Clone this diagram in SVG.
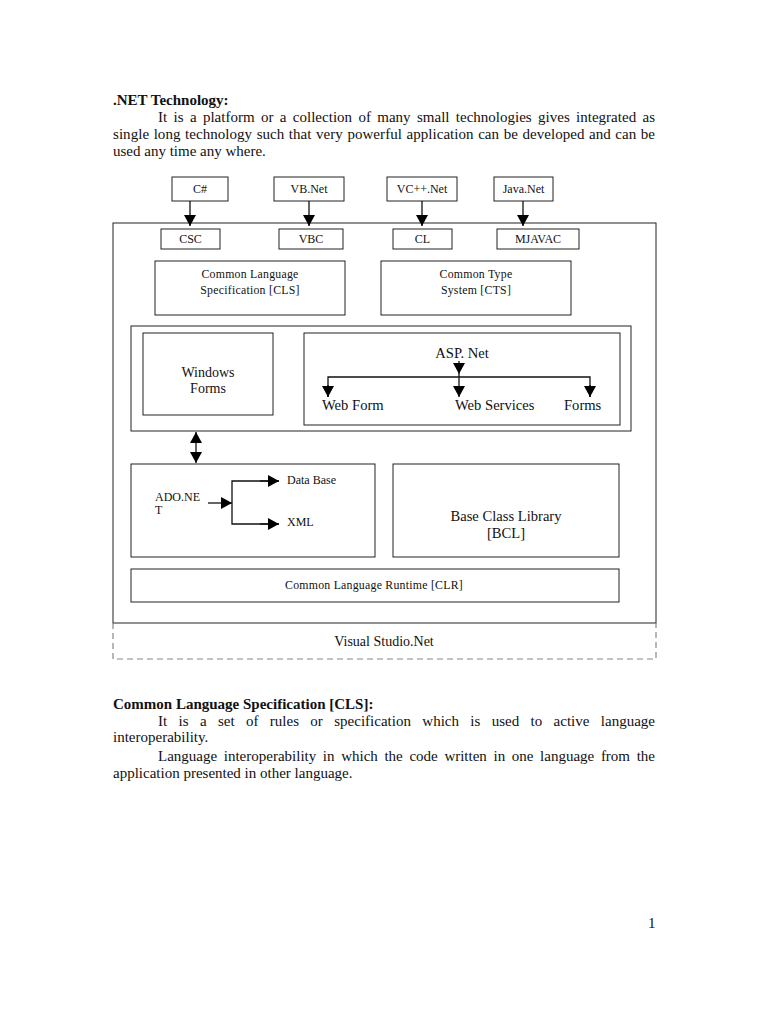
<svg xmlns="http://www.w3.org/2000/svg" width="768" height="1024" viewBox="0 0 768 1024">
<style>
text{font-family:"Liberation Serif","Times New Roman",serif;fill:#111}
.body{font-size:15px}
.bold{font-size:15px;font-weight:bold}
.box{fill:#fff;stroke:#222;stroke-width:1}
.s12{font-size:12px}
.s115{font-size:11.8px;letter-spacing:0.25px}
.s14{font-size:14px}
.s145{font-size:14.6px}
.c{text-anchor:middle}
.ln{fill:none;stroke:#111;stroke-width:1.3}
.dash{fill:none;stroke:#888;stroke-width:1.2;stroke-dasharray:6,4}
</style>
<defs>
<marker id="ah" markerUnits="userSpaceOnUse" viewBox="0 0 11 12" refX="11" refY="6" markerWidth="11" markerHeight="12" orient="auto-start-reverse">
<path d="M0,0 L11,6 L0,12 z" fill="#000"/>
</marker>
</defs>
<rect width="768" height="1024" fill="#fff"/>

<g id="intro">
<text class="bold" x="113" y="105">.NET Technology:</text>
<text class="body" x="158" y="122" word-spacing="2.6" textLength="497" lengthAdjust="spacing">It is a platform or a collection of many small technologies gives integrated as</text>
<text class="body" x="113" y="139" word-spacing="0.7" textLength="542" lengthAdjust="spacing">single long technology such that very powerful application can be developed and can be</text>
<text class="body" x="113" y="156">used any time any where.</text>
</g>

<g id="outer">
<rect class="box" x="113" y="223" width="543" height="400"/>
<path class="dash" d="M113,623 V659 H656 V623"/>
<text class="s14 c" x="384" y="646">Visual Studio.Net</text>
</g>

<g id="lang-csharp"><rect class="box" x="172" y="177" width="56" height="24"/><text class="s12 c" x="200" y="193">C#</text></g>
<g id="lang-vbnet"><rect class="box" x="274" y="177" width="70" height="24"/><text class="s12 c" x="309" y="193">VB.Net</text></g>
<g id="lang-vcnet"><rect class="box" x="387" y="177" width="70" height="24"/><text class="s12 c" x="422" y="193">VC++.Net</text></g>
<g id="lang-javanet"><rect class="box" x="494" y="177" width="59" height="24"/><text class="s12 c" x="523.5" y="193">Java.Net</text></g>

<g id="comp-csc"><rect class="box" x="161" y="229" width="59" height="20"/><text class="s12 c" x="190.5" y="243">CSC</text></g>
<g id="comp-vbc"><rect class="box" x="279" y="229" width="64" height="20"/><text class="s12 c" x="311" y="243">VBC</text></g>
<g id="comp-cl"><rect class="box" x="393" y="229" width="59" height="20"/><text class="s12 c" x="422.5" y="243">CL</text></g>
<g id="comp-mjavac"><rect class="box" x="497" y="229" width="82" height="20"/><text class="s12 c" x="538" y="243">MJAVAC</text></g>

<g id="cls"><rect class="box" x="155" y="261" width="190" height="54"/>
<text class="s115 c" x="250" y="278">Common Language</text>
<text class="s115 c" x="250" y="294">Specification [CLS]</text></g>
<g id="cts"><rect class="box" x="381" y="261" width="190" height="54"/>
<text class="s115 c" x="476" y="278">Common Type</text>
<text class="s115 c" x="476" y="294">System [CTS]</text></g>

<g id="ui-container"><rect class="box" x="131" y="326" width="500" height="105"/></g>
<g id="winforms"><rect class="box" x="143" y="333" width="130" height="82"/>
<text class="s14 c" x="208" y="377">Windows</text>
<text class="s14 c" x="208" y="393">Forms</text></g>
<g id="aspnet"><rect class="box" x="304" y="333" width="316" height="92"/>
<text class="s145 c" x="462" y="358">ASP. Net</text>
<text class="s145" x="322" y="410">Web Form</text>
<text class="s145" x="455" y="410">Web Services</text>
<text class="s145" x="564" y="410">Forms</text></g>

<g id="adonet"><rect class="box" x="131" y="464" width="244" height="93"/>
<text class="s12" x="155" y="501">ADO.NE</text>
<text class="s12" x="155" y="514">T</text>
<text class="s12" x="287" y="484">Data Base</text>
<text class="s12" x="287" y="526">XML</text></g>
<g id="bcl"><rect class="box" x="393" y="464" width="226" height="93"/>
<text class="s145 c" x="506" y="521">Base Class Library</text>
<text class="s145 c" x="506" y="538">[BCL]</text></g>
<g id="clr"><rect class="box" x="131" y="569" width="488" height="33"/>
<text class="s115 c" x="374" y="589">Common Language Runtime [CLR]</text></g>

<g id="connectors">
<line class="ln" x1="190" y1="201" x2="190" y2="226" marker-end="url(#ah)"/>
<line class="ln" x1="309" y1="201" x2="309" y2="226" marker-end="url(#ah)"/>
<line class="ln" x1="422" y1="201" x2="422" y2="226" marker-end="url(#ah)"/>
<line class="ln" x1="523" y1="201" x2="523" y2="226" marker-end="url(#ah)"/>
<line class="ln" x1="459" y1="361" x2="459" y2="374" marker-end="url(#ah)"/>
<path class="ln" d="M328,397 V377 H590 V397"/>
<line class="ln" x1="328" y1="385" x2="328" y2="397" marker-end="url(#ah)"/>
<line class="ln" x1="459" y1="374" x2="459" y2="397" marker-end="url(#ah)"/>
<line class="ln" x1="590" y1="385" x2="590" y2="397" marker-end="url(#ah)"/>
<line class="ln" x1="196" y1="432" x2="196" y2="463" marker-start="url(#ah)" marker-end="url(#ah)"/>
<line class="ln" x1="208" y1="503" x2="232" y2="503" marker-end="url(#ah)"/>
<path class="ln" d="M279,481 H232 V524 H279"/>
<line class="ln" x1="260" y1="481" x2="279" y2="481" marker-end="url(#ah)"/>
<line class="ln" x1="260" y1="524" x2="279" y2="524" marker-end="url(#ah)"/>
</g>

<g id="cls-section">
<text class="bold" x="113" y="709">Common Language Specification [CLS]:</text>
<text class="body" x="158" y="726" word-spacing="7.6" textLength="497" lengthAdjust="spacing">It is a set of rules or specification which is used to active language</text>
<text class="body" x="113" y="742">interoperability.</text>
<text class="body" x="158" y="761" word-spacing="2.9" textLength="497" lengthAdjust="spacing">Language interoperability in which the code written in one language from the</text>
<text class="body" x="113" y="778">application presented in other language.</text>
</g>
<text class="body" x="648" y="928">1</text>
</svg>
